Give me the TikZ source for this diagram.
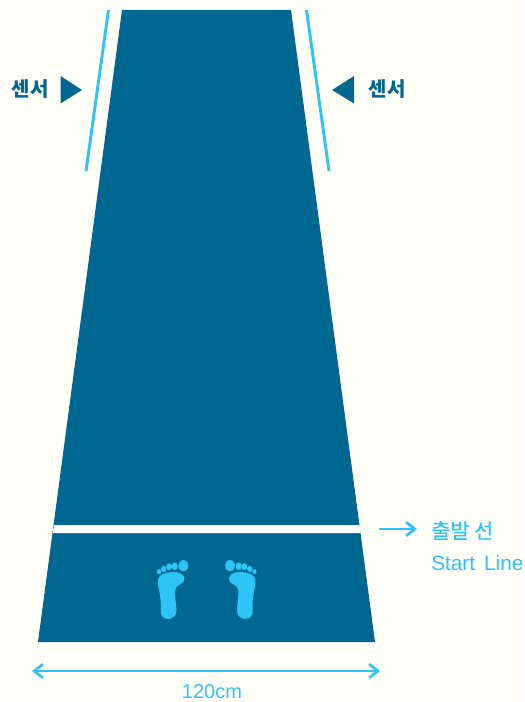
\documentclass[tikz,border=0pt]{standalone}
\usepackage{fontspec}
\setmainfont{Liberation Sans}
\newfontfamily\krfont{Noto Sans CJK KR}
\newfontfamily\krmed[FakeBold=0.5]{Noto Sans CJK KR}
\usetikzlibrary{arrows.meta,calc,positioning}
\definecolor{paper}{HTML}{FFFEF7}
\definecolor{lane}{HTML}{006890}
\definecolor{sky}{HTML}{2EC5F6}
\newcommand{\lb}{\fontsize{15}{18}\selectfont}

\begin{document}
\begin{tikzpicture}[x=0.75pt, y=-0.75pt,
  sensorline/.style={draw=sky, line width=2.2pt},
  sensortag/.style={font=\krfont\bfseries\lb, text=lane, inner sep=0pt},
  marker/.style={fill=lane},
  lbl/.style={font=\fontsize{15.6}{18}\selectfont, text=sky, inner sep=0pt},
  dimlbl/.style={font=\lb, text=sky, inner sep=0pt},
  krlbl/.style={font=\krmed\fontsize{15.6}{18}\selectfont, text=sky, inner sep=0pt},
  skyarrow/.style={draw=sky, line width=2pt, line cap=round},
  sole/.style={fill=sky},
  >={Straight Barb[length=2.3mm,width=3.6mm,line width=2pt]}]

% ================================================================== page and lane
\useasboundingbox[fill=paper] (0,0) rectangle (524,702);
\fill[lane] (122,10) -- (291,10) -- (375,642) -- (38,642) -- cycle;
\fill[white] (54,525) -- (359.5,525) -- (360.6,533) -- (52.9,533) -- cycle;

% ================================================================== sensors
\draw[sensorline] (108.5,10) -- (86,171);
\draw[sensorline] (306.5,10) -- (329,171);
\fill[marker] (60.5,76) -- (82,90) -- (60.5,103.5) -- cycle;
\fill[marker] (354,76) -- (332,90) -- (354,103.5) -- cycle;
\node[sensortag] (sensorL) at (30,89) {센서};
\node[sensortag] (sensorR) at (387,89) {센서};

% ================================================================== start line labels
\coordinate (startA) at (380,529);
\coordinate (startB) at (417,529);
\draw[skyarrow, ->] (startA) -- (startB);
\node[krlbl, anchor=west] (startKr) at (431,530.5) {출발 선};
\node[lbl, anchor=west] (startEn) at (431,563) {Start\hspace{2.4pt} Line};

% ================================================================== width
\coordinate (dimA) at (32,671);
\coordinate (dimB) at (380,671);
\draw[skyarrow, <->] (dimA) -- (dimB);
\node[dimlbl] (dimText) at (212,692) {120cm};

% ================================================================== feet
% one foot is drawn in 1/3 px around the axis, then mirrored
\foreach \s in {1,-1}{
  \begin{scope}[shift={(206.7,550)}, x=0.25pt, y=-0.25pt, xscale=\s]
    \fill[sole] (-146,88) .. controls (-143,72) and (-120,66) .. (-100,66)
      .. controls (-78,66) and (-66,76) .. (-67,88)
      .. controls (-68,104) and (-90,100) .. (-94,118)
      .. controls (-98,135) and (-90,165) .. (-91,185)
      .. controls (-92,198) and (-104,207) .. (-115,207)
      .. controls (-130,207) and (-140,196) .. (-138,178)
      .. controls (-136,150) and (-141,128) .. (-146,105) -- cycle;
    \fill[sole] (-70,47) ellipse (14.5 and 17.5);
    \fill[sole] (-96,49) ellipse (9.5 and 11.5);
    \fill[sole] (-113,50) ellipse (8.5 and 10.5);
    \fill[sole] (-129,57) ellipse (8 and 9.5);
    \fill[sole] (-143,65) ellipse (6.5 and 7.5);
  \end{scope}
}
\end{tikzpicture}
\end{document}
